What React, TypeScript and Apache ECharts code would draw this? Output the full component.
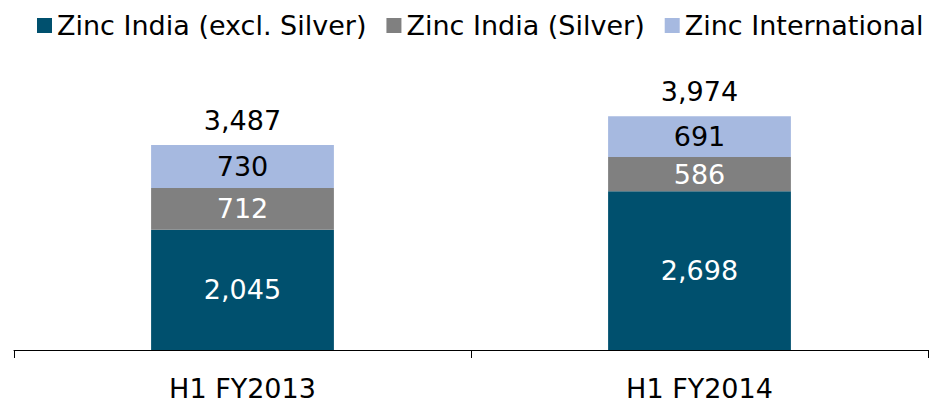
import React, { useEffect, useRef } from "react";
import * as echarts from "echarts";

const categories = ["H1 FY2013", "H1 FY2014"];
const zincIndiaExSilver = [2045, 2698];
const zincIndiaSilver = [712, 586];
const zincInternational = [730, 691];
const totals = [3487, 3974];

const FONT = "DejaVu Sans";
const FS = 27;

export default function App() {
  const ref = useRef<HTMLDivElement>(null);
  useEffect(() => {
    if (!ref.current) return;
    const chart = echarts.init(ref.current, undefined, { renderer: "svg" });
    const fmt = (v: number) => v.toLocaleString("en-US");
    const inside = (color: string) => ({
      show: true,
      position: "inside" as const,
      color,
      fontSize: FS,
      fontFamily: FONT,
      formatter: (p: any) => fmt(p.value),
    });
    chart.setOption({
      animation: false,
      textStyle: { fontFamily: FONT },
      legend: {
        data: ["Zinc India (excl. Silver)", "Zinc India (Silver)", "Zinc International"],
        left: 37,
        top: 12,
        width: 895,
        padding: 0,
        itemWidth: 15,
        itemHeight: 15,
        itemGap: 20,
        icon: "rect",
        textStyle: { fontSize: FS, color: "#000", fontFamily: FONT },
      },
      grid: { left: 14, right: 4, top: 56, bottom: 53, containLabel: false },
      xAxis: {
        type: "category",
        data: categories,
        axisLine: { lineStyle: { color: "#000", width: 1 } },
        axisTick: { show: true, length: 8, lineStyle: { color: "#000" } },
        axisLabel: { fontSize: FS, color: "#000", fontFamily: FONT, margin: 25 },
      },
      yAxis: {
        type: "value",
        min: 0,
        max: 5000,
        show: false,
        splitLine: { show: false },
      },
      series: [
        {
          name: "Zinc India (excl. Silver)",
          type: "bar",
          stack: "a",
          barWidth: "40%",
          data: zincIndiaExSilver,
          itemStyle: { color: "#00506E" },
          label: inside("#fff"),
        },
        {
          name: "Zinc India (Silver)",
          type: "bar",
          stack: "a",
          data: zincIndiaSilver,
          itemStyle: { color: "#808080" },
          label: inside("#fff"),
        },
        {
          name: "Zinc International",
          type: "bar",
          stack: "a",
          data: zincInternational,
          itemStyle: { color: "#A6B9E0" },
          label: inside("#000"),
        },
        {
          name: "Total",
          type: "scatter",
          data: totals,
          symbolSize: 0,
          silent: true,
          itemStyle: { opacity: 1, color: "#000" },
          label: {
            show: true,
            position: "top",
            distance: 11,
            color: "#000",
            fontSize: FS,
            fontFamily: FONT,
            formatter: (p: any) => fmt(p.value),
          },
        },
      ],
    });
    return () => chart.dispose();
  }, []);
  return (
    <div
      ref={ref}
      style={{ position: "absolute", left: 0, top: 0, width: 932, height: 403 }}
    />
  );
}
